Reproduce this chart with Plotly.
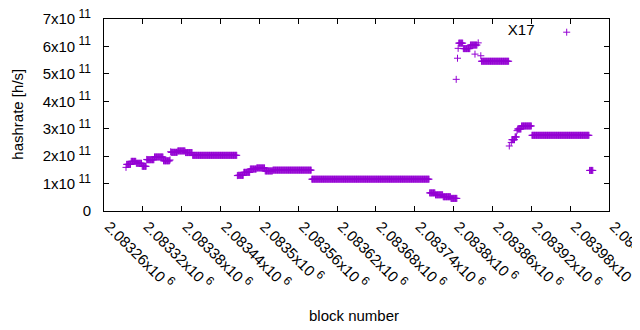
import plotly.graph_objects as go

# ---- data ----
# runs of consecutive blocks sharing the same hashrate: start block, end block, hashrate [h/s]
run_start = [2083294, 2083295, 2083302, 2083310, 2083319, 2083326, 2083327, 2083338, 2083352,
             2083362, 2083363, 2083364, 2083374, 2083386, 2083397,
             2083466, 2083467, 2083476, 2083486, 2083496, 2083509, 2083521,
             2083581,
             2083763, 2083772, 2083784, 2083796,
             2083804, 2083806, 2083807, 2083808, 2083815, 2083826, 2083833, 2083838, 2083842, 2083843,
             2083886, 2083889, 2083890, 2083895, 2083898, 2083899, 2083905, 2083921,
             2084010]
run_end = [2083294, 2083301, 2083309, 2083318, 2083325, 2083326, 2083337, 2083351, 2083361,
           2083362, 2083363, 2083373, 2083385, 2083396, 2083465,
           2083466, 2083475, 2083485, 2083495, 2083508, 2083520, 2083580,
           2083762,
           2083771, 2083783, 2083795, 2083805,
           2083804, 2083806, 2083807, 2083814, 2083825, 2083836, 2083833, 2083838, 2083842, 2083885,
           2083886, 2083889, 2083894, 2083897, 2083898, 2083904, 2083920, 2084009,
           2084015]
run_value = [1.59e11, 1.70e11, 1.81e11, 1.74e11, 1.63e11, 1.88e11, 1.87e11, 1.97e11, 1.83e11,
             1.86e11, 2.16e11, 2.14e11, 2.19e11, 2.13e11, 2.03e11,
             1.29e11, 1.30e11, 1.41e11, 1.53e11, 1.57e11, 1.46e11, 1.49e11,
             1.16e11,
             0.66e11, 0.59e11, 0.52e11, 0.46e11,
             4.80e11, 5.57e11, 5.93e11, 6.12e11, 5.92e11, 6.05e11, 5.72e11, 6.13e11, 5.66e11, 5.46e11,
             2.37e11, 2.50e11, 2.60e11, 2.70e11, 2.93e11, 2.99e11, 3.10e11, 2.76e11,
             1.48e11]

x_tick_values = [2083260, 2083320, 2083380, 2083440, 2083500, 2083560, 2083620,
                 2083680, 2083740, 2083800, 2083860, 2083920, 2083980, 2084040]
x_tick_labels = ["2.08326", "2.08332", "2.08338", "2.08344", "2.0835", "2.08356", "2.08362",
                 "2.08368", "2.08374", "2.0838", "2.08386", "2.08392", "2.08398", "2.08404"]
y_tick_values = [0, 1e11, 2e11, 3e11, 4e11, 5e11, 6e11, 7e11]
y_tick_labels = ["0", "1", "2", "3", "4", "5", "6", "7"]

# expand runs into one point per block
blocks, hashrate = [], []
for s, e, v in zip(run_start, run_end, run_value):
    for b in range(s, e + 1):
        blocks.append(b)
        hashrate.append(v)

COLOR = "#9400D3"
FONT = "Liberation Sans"
SUP = "<sup><span style='font-size:12px'> %s</span></sup>"

fig = go.Figure()
fig.add_trace(go.Scatter(
    x=blocks, y=hashrate, mode="markers", name="",
    marker=dict(symbol="cross-thin", size=5, color=COLOR,
                line=dict(color=COLOR, width=1)),
    showlegend=True,
))

axis_common = dict(showline=True, linecolor="black", linewidth=1, mirror="ticks",
                   ticks="inside", ticklen=5, tickcolor="black", tickwidth=1,
                   showgrid=False, zeroline=False, automargin=False,
                   ticklabeloverflow="allow",
                   tickfont=dict(family=FONT, size=15, color="black"))

fig.update_xaxes(range=[x_tick_values[0], x_tick_values[-1]],
                 tickmode="array", tickvals=x_tick_values,
                 ticktext=[t + "x10" + SUP % "6" for t in x_tick_labels],
                 tickangle=45, ticklabelshift=5, **axis_common)
fig.update_yaxes(range=[0, 7e11], tickmode="array", tickvals=y_tick_values,
                 ticktext=[t if t == "0" else t + "x10" + SUP % "11" for t in y_tick_labels],
                 ticklabelstandoff=9, **axis_common)

# the page body adds an 8 px offset; margins are set so the plot box lands at x 104-609, y 19-211
fig.update_layout(
    template="none",
    width=640, height=330,
    margin=dict(l=96, r=39, t=11, b=127, autoexpand=False),
    plot_bgcolor="white", paper_bgcolor="white",
    font=dict(family=FONT, size=15, color="black"),
    showlegend=True,
    legend=dict(x=0.966, y=0.93, xanchor="right", yanchor="middle",
                bgcolor="rgba(0,0,0,0)",
                title=dict(text="X17&nbsp;", side="left", font=dict(family=FONT, size=15, color="black")),
                font=dict(family=FONT, size=15)),
    annotations=[
        dict(text="block number", xref="paper", yref="paper", x=0.495, y=-0.542,
             xanchor="center", yanchor="middle", showarrow=False,
             font=dict(family=FONT, size=15, color="black")),
        dict(text="hashrate [h/s]", xref="paper", yref="paper", x=-0.173, y=0.505,
             xanchor="center", yanchor="middle", showarrow=False, textangle=-90,
             font=dict(family=FONT, size=15, color="black")),
    ],
)

fig.write_html("out.html")
